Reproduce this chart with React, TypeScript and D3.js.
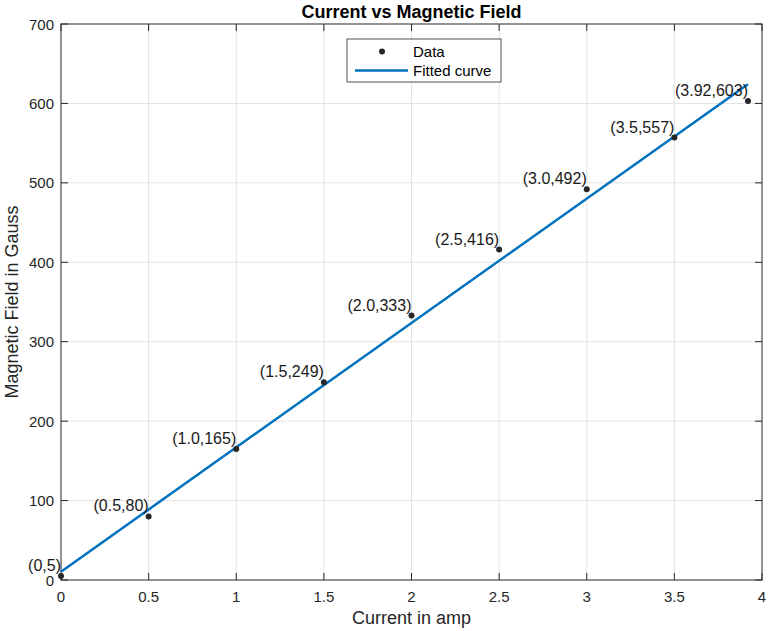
import * as d3 from "d3"
import React from "react"

const currents = [0, 0.5, 1.0, 1.5, 2.0, 2.5, 3.0, 3.5, 3.92]
const fields = [5, 80, 165, 249, 333, 416, 492, 557, 603]
const pointLabels = ["(0,5)", "(0.5,80)", "(1.0,165)", "(1.5,249)", "(2.0,333)", "(2.5,416)", "(3.0,492)", "(3.5,557)", "(3.92,603)"]
const xTicks = [0, 0.5, 1, 1.5, 2, 2.5, 3, 3.5, 4]
const yTicks = [0, 100, 200, 300, 400, 500, 600, 700]

const W = 768
const H = 631
const margin = { top: 24, right: 6, bottom: 51, left: 61 }
const FONT = "'Liberation Sans', Arial, Helvetica, sans-serif"

// least squares fit of the data points
const fitLine = () => {
  const mx = d3.mean(currents)!
  const my = d3.mean(fields)!
  let sxy = 0, sxx = 0
  currents.forEach((x, i) => {
    sxy += (x - mx) * (fields[i] - my)
    sxx += (x - mx) * (x - mx)
  })
  const slope = sxy / sxx
  const icpt = my - slope * mx
  const xs = [d3.min(currents)!, d3.max(currents)!]
  return xs.map(x => [x, icpt + slope * x] as [number, number])
}

const App = () => {
  const ref = React.useRef<SVGSVGElement>(null)

  React.useEffect(() => {
    document.body.style.margin = "0"
    const svg = d3.select(ref.current)
    svg.selectAll("*").remove()

    const x = d3.scaleLinear([0, 4], [margin.left, W - margin.right])
    const y = d3.scaleLinear([0, 700], [H - margin.bottom, margin.top])
    const x0 = margin.left, x1 = W - margin.right
    const y0 = H - margin.bottom, y1 = margin.top

    svg.append("rect").attr("width", W).attr("height", H).attr("fill", "#fff")

    // grid
    const grid = svg.append("g").attr("stroke", "#e3e3e3").attr("stroke-width", 1)
    grid.selectAll("line.v").data(xTicks.slice(1, -1)).join("line")
      .attr("x1", d => x(d)).attr("x2", d => x(d)).attr("y1", y0).attr("y2", y1)
    grid.selectAll("line.h").data(yTicks.slice(1, -1)).join("line")
      .attr("class", "h")
      .attr("y1", d => y(d)).attr("y2", d => y(d)).attr("x1", x0).attr("x2", x1)

    // box
    svg.append("rect")
      .attr("x", x0).attr("y", y1).attr("width", x1 - x0).attr("height", y0 - y1)
      .attr("fill", "none").attr("stroke", "#262626").attr("stroke-width", 1)

    // ticks, inward on all four sides
    const tk = svg.append("g").attr("stroke", "#262626").attr("stroke-width", 1)
    xTicks.forEach(t => {
      tk.append("line").attr("x1", x(t)).attr("x2", x(t)).attr("y1", y0).attr("y2", y0 - 7)
      tk.append("line").attr("x1", x(t)).attr("x2", x(t)).attr("y1", y1).attr("y2", y1 + 7)
    })
    yTicks.forEach(t => {
      tk.append("line").attr("y1", y(t)).attr("y2", y(t)).attr("x1", x0).attr("x2", x0 + 7)
      tk.append("line").attr("y1", y(t)).attr("y2", y(t)).attr("x1", x1).attr("x2", x1 - 7)
    })

    svg.append("g").selectAll("text").data(xTicks).join("text")
      .attr("x", d => x(d)).attr("y", y0 + 22)
      .attr("text-anchor", "middle")
      .attr("font-family", FONT).attr("font-size", 15).attr("fill", "#262626")
      .text(d => String(d))

    svg.append("g").selectAll("text").data(yTicks).join("text")
      .attr("x", x0 - 7).attr("y", d => y(d) + 5.5)
      .attr("text-anchor", "end")
      .attr("font-family", FONT).attr("font-size", 15).attr("fill", "#262626")
      .text(d => String(d))

    // fitted line
    const line = d3.line<[number, number]>().x(d => x(d[0])).y(d => y(d[1]))
    svg.append("path")
      .attr("d", line(fitLine()))
      .attr("fill", "none").attr("stroke", "#0072BD").attr("stroke-width", 2.5)

    // data points
    svg.append("g").selectAll("circle").data(currents).join("circle")
      .attr("cx", d => x(d)).attr("cy", (d, i) => y(fields[i]))
      .attr("r", 3).attr("fill", "#262626")

    // point labels
    svg.append("g").selectAll("text").data(currents).join("text")
      .attr("x", d => x(d)).attr("y", (d, i) => y(fields[i]) - 5)
      .attr("text-anchor", "end")
      .attr("font-family", FONT).attr("font-size", 16).attr("fill", "#1a1a1a")
      .text((d, i) => pointLabels[i])

    // legend
    const lg = svg.append("g")
    lg.append("rect")
      .attr("x", 347).attr("y", 39).attr("width", 154).attr("height", 43)
      .attr("fill", "#fff").attr("stroke", "#262626").attr("stroke-width", 0.8)
    lg.append("circle").attr("cx", 382).attr("cy", 51.5).attr("r", 3).attr("fill", "#262626")
    lg.append("line").attr("x1", 355).attr("x2", 408).attr("y1", 70.5).attr("y2", 70.5)
      .attr("stroke", "#0072BD").attr("stroke-width", 2.5)
    lg.append("text").attr("x", 413).attr("y", 57)
      .attr("font-family", FONT).attr("font-size", 15).attr("fill", "#000").text("Data")
    lg.append("text").attr("x", 413).attr("y", 76)
      .attr("font-family", FONT).attr("font-size", 15).attr("fill", "#000").text("Fitted curve")

    // title and axis labels
    svg.append("text").attr("x", (x0 + x1) / 2).attr("y", 18)
      .attr("text-anchor", "middle").attr("font-family", FONT)
      .attr("font-size", 18).attr("font-weight", "bold").attr("fill", "#000")
      .text("Current vs Magnetic Field")
    svg.append("text").attr("x", (x0 + x1) / 2).attr("y", 624)
      .attr("text-anchor", "middle").attr("font-family", FONT)
      .attr("font-size", 18).attr("fill", "#262626")
      .text("Current in amp")
    svg.append("text")
      .attr("transform", `translate(18,${(y0 + y1) / 2}) rotate(-90)`)
      .attr("text-anchor", "middle").attr("font-family", FONT)
      .attr("font-size", 18).attr("fill", "#262626")
      .text("Magnetic Field in Gauss")
  }, [])

  return <svg ref={ref} width={W} height={H} style={{ display: "block" }} />
}

export default App
